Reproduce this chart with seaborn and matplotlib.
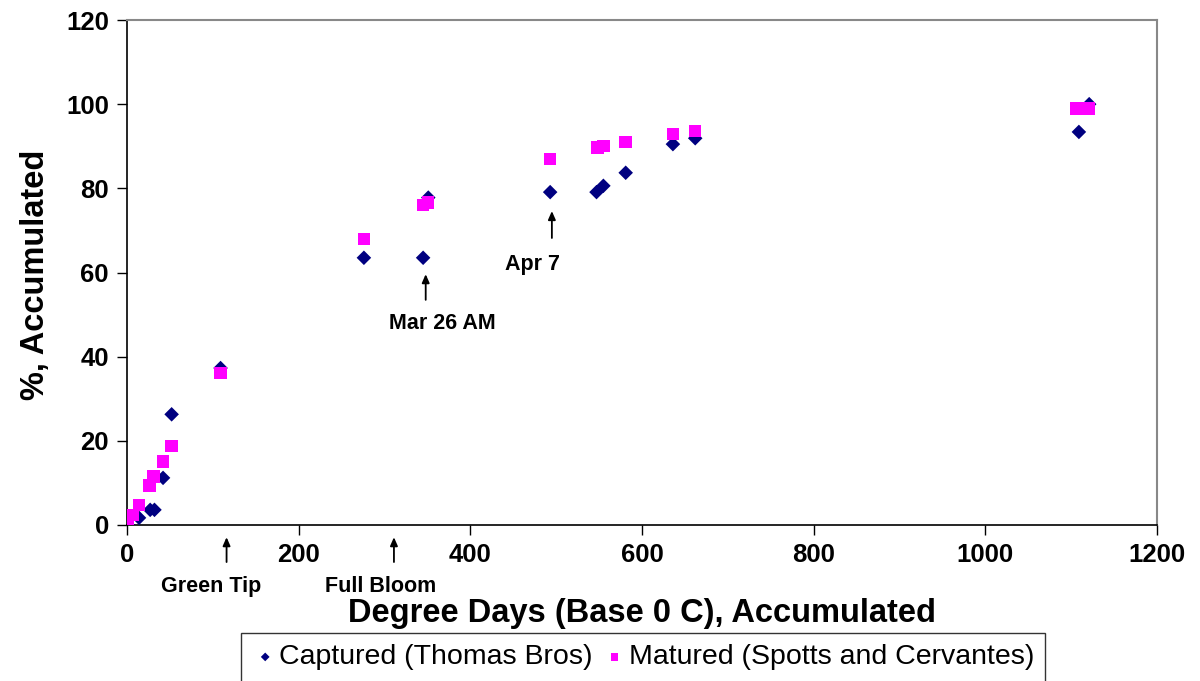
import matplotlib
matplotlib.use("Agg")
import matplotlib.pyplot as plt
import seaborn as sns
import pandas as pd

# data
captured_dd = [1, 14, 27, 32, 42, 52, 109, 276, 345, 351, 493, 547, 555, 581, 636, 662, 1109, 1121]
captured_pct = [0, 1.7, 3.6, 3.6, 11.2, 26.3, 37.3, 63.5, 63.5, 77.8, 79.1, 79.1, 80.6, 83.7, 90.5, 91.9, 93.4, 100]
matured_dd = [1, 7, 14, 26, 31, 42, 52, 109, 276, 345, 351, 493, 548, 555, 581, 636, 662, 1106, 1121]
matured_pct = [0.2, 2.4, 4.7, 9.4, 11.5, 15.1, 18.8, 36.1, 68.0, 76.0, 76.6, 87.0, 89.7, 90.0, 91.0, 92.9, 93.6, 99, 99]

# annotations: (label, x, arrow tail y, arrow head y, text x, text y)
notes = [
    ("Green Tip", 116, -8.8, -2.9, 98, -14.7),
    ("Full Bloom", 311, -8.8, -2.9, 296, -14.7),
    ("Mar 26 AM", 348, 53.5, 59.6, 367, 47.8),
    ("Apr 7", 495, 68.2, 74.6, 473, 61.8),
]

cap = pd.DataFrame({"dd": captured_dd, "pct": captured_pct})
mat = pd.DataFrame({"dd": matured_dd, "pct": matured_pct})

sns.set_style("white")
plt.rcParams['font.family'] = ['Liberation Sans', 'DejaVu Sans']
plt.rcParams['text.color'] = 'black'
plt.rcParams['axes.labelcolor'] = 'black'
plt.rcParams['xtick.color'] = 'black'
plt.rcParams['ytick.color'] = 'black'

fig = plt.figure(figsize=(12, 6.81), dpi=100)
ax = fig.add_axes([127 / 1200, 1 - 525 / 681, (1157 - 127) / 1200, (525 - 20) / 681])

sns.scatterplot(data=cap, x="dd", y="pct", marker="D", s=55, color="#000080",
                edgecolor="none", label="Captured (Thomas Bros)", ax=ax, zorder=3)
sns.scatterplot(data=mat, x="dd", y="pct", marker="s", s=80, color="#FF00FF",
                edgecolor="none", label="Matured (Spotts and Cervantes)", ax=ax, zorder=4)

ax.set_xlim(0, 1200)
ax.set_ylim(0, 120)
ax.set_xticks(range(0, 1201, 200))
ax.set_yticks(range(0, 121, 20))
ax.tick_params(axis="both", direction="out", length=7, width=1, colors="black",
               labelsize=18.5, pad=6)
for lab in ax.get_xticklabels() + ax.get_yticklabels():
    lab.set_fontweight("bold")
ax.xaxis.set_ticks_position("bottom")
ax.yaxis.set_ticks_position("left")

for side in ["left", "bottom"]:
    ax.spines[side].set_color("black")
    ax.spines[side].set_linewidth(1.2)
for side in ["top", "right"]:
    ax.spines[side].set_color("#888888")
    ax.spines[side].set_linewidth(1.5)

ax.set_xlabel("Degree Days (Base 0 C), Accumulated", fontsize=23.5, fontweight="bold")
ax.xaxis.set_label_coords(0.5, -0.176)
ax.xaxis.label.set_va("center")
ax.set_ylabel("%, Accumulated", fontsize=23.5, fontweight="bold")
ax.yaxis.set_label_coords(-0.089, 0.495)
ax.yaxis.label.set_va("center")

for label, x, y0, y1, tx, ty in notes:
    ax.annotate("", xy=(x, y1), xytext=(x, y0), annotation_clip=False,
                arrowprops=dict(arrowstyle="-|>,head_length=0.5,head_width=0.22",
                                color="black", lw=1.3, shrinkA=0, shrinkB=0))
    ax.text(tx, ty, label, ha="center", va="center", fontsize=15.5,
            fontweight="bold", clip_on=False)

leg = ax.legend(loc="upper left", bbox_to_anchor=(241 / 1200, 1 - 633 / 681),
                bbox_transform=fig.transFigure,
                ncol=2, frameon=True, fancybox=False, fontsize=20.5, markerscale=0.6,
                handletextpad=0.05, columnspacing=0.3, handlelength=0.9,
                borderpad=0.4, borderaxespad=0)
leg.get_frame().set_edgecolor("black")
leg.get_frame().set_linewidth(1.0)

fig.savefig("out.png", dpi=100)
